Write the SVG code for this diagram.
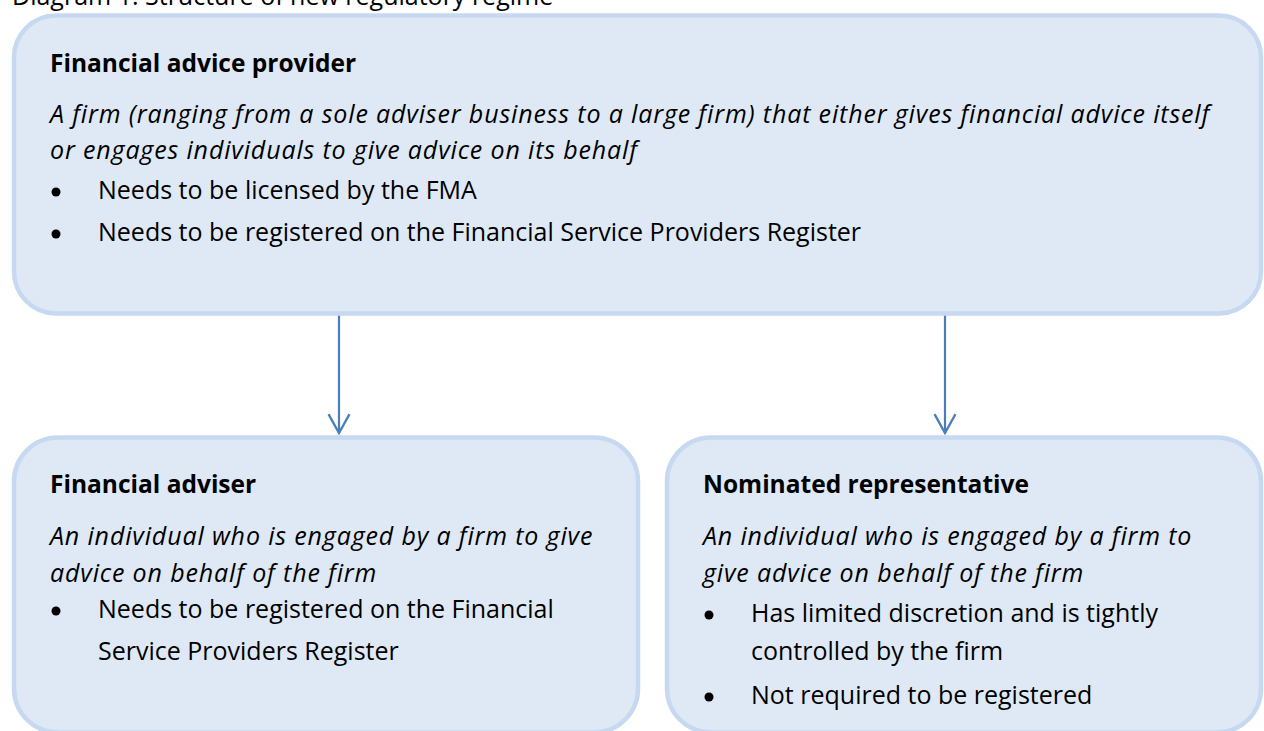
<svg xmlns="http://www.w3.org/2000/svg" width="1264" height="731" viewBox="0 0 1264 731">
<style>
.box{fill:#dfe9f6;stroke:#c6d9f0;stroke-width:4.5}
text{font-family:"Open Sans","Liberation Sans",sans-serif;font-size:25px;fill:#000}
.b{font-weight:bold;font-size:24.5px}
.i{font-style:italic;letter-spacing:0.85px}
.bul{fill:#000}
.conn{stroke:#4a7ebb;stroke-width:2.2;fill:none}
</style>
<defs>
<marker id="arr" markerUnits="userSpaceOnUse" markerWidth="22" markerHeight="24" refX="19" refY="11" orient="auto" viewBox="0 0 21 22">
<path d="M1,1 L19,11 L1,21" fill="none" stroke="#4a7ebb" stroke-width="2.2"/>
</marker>
</defs>
<rect width="1264" height="731" fill="#fff"/>
<text x="12" y="5">Diagram 1: Structure of new regulatory regime</text>
<g id="connectors">
<path class="conn" d="M339,314 V433" marker-end="url(#arr)"/>
<path class="conn" d="M945,314 V433" marker-end="url(#arr)"/>
</g>
<g id="node-provider">
<rect class="box" x="14" y="15.5" width="1247" height="298" rx="42" ry="42"/>
<text class="b" x="50" y="72">Financial advice provider</text>
<text class="i" x="50" y="123">A firm (ranging from a sole adviser business to a large firm) that either gives financial advice itself</text>
<text class="i" x="50" y="159">or engages individuals to give advice on its behalf</text>
<circle class="bul" cx="56" cy="192" r="4.5"/>
<text x="98" y="199">Needs to be licensed by the FMA</text>
<circle class="bul" cx="56" cy="234" r="4.5"/>
<text x="98" y="241">Needs to be registered on the Financial Service Providers Register</text>
</g>
<g id="node-adviser">
<rect class="box" x="14" y="437.5" width="624" height="295" rx="44" ry="44"/>
<text class="b" x="50" y="493">Financial adviser</text>
<text class="i" x="50" y="545">An individual who is engaged by a firm to give</text>
<text class="i" x="50" y="582">advice on behalf of the firm</text>
<circle class="bul" cx="56" cy="611" r="4.5"/>
<text x="98" y="618">Needs to be registered on the Financial</text>
<text x="98" y="660">Service Providers Register</text>
</g>
<g id="node-nominated">
<rect class="box" x="667" y="437.5" width="594" height="295" rx="44" ry="44"/>
<text class="b" x="703" y="493">Nominated representative</text>
<text class="i" x="703" y="545">An individual who is engaged by a firm to</text>
<text class="i" x="703" y="582">give advice on behalf of the firm</text>
<circle class="bul" cx="709" cy="615" r="4.5"/>
<text x="751" y="622">Has limited discretion and is tightly</text>
<text x="751" y="660">controlled by the firm</text>
<circle class="bul" cx="709" cy="697" r="4.5"/>
<text x="751" y="704">Not required to be registered</text>
</g>
</svg>
